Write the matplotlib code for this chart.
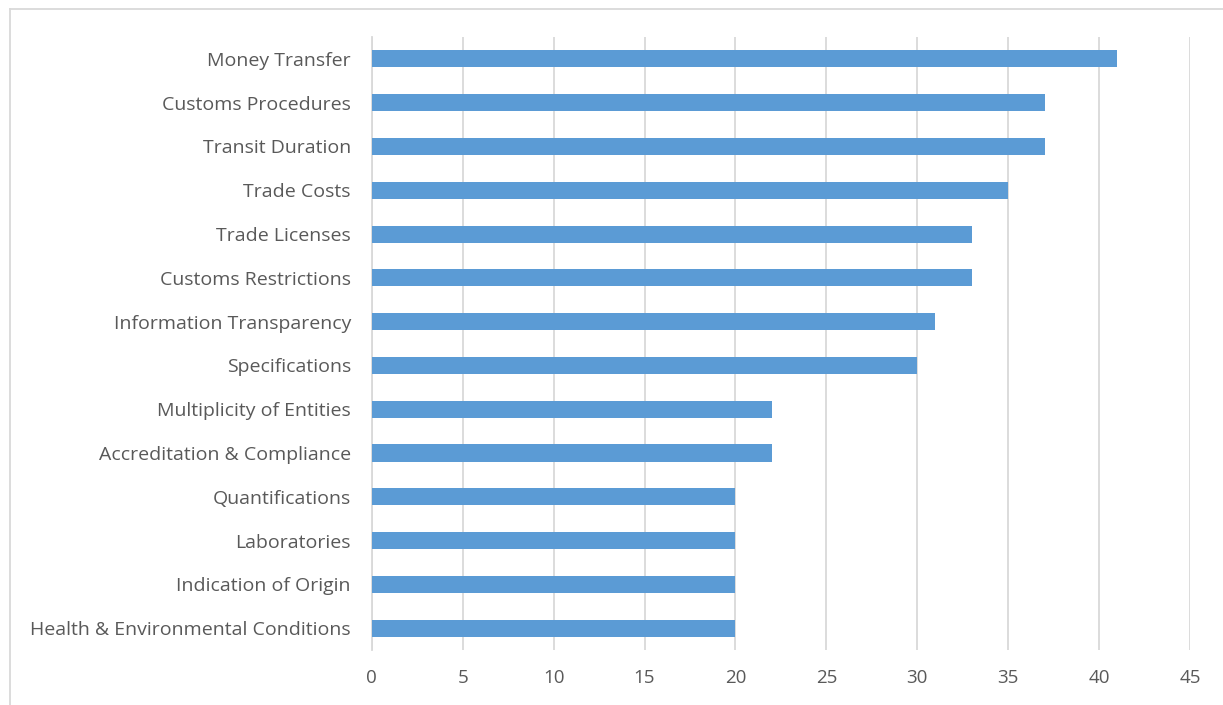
import matplotlib.pyplot as plt
from matplotlib.lines import Line2D

# 項目と件数（上から順）
categories = [
    'Money Transfer',
    'Customs Procedures',
    'Transit Duration',
    'Trade Costs',
    'Trade Licenses',
    'Customs Restrictions',
    'Information Transparency',
    'Specifications',
    'Multiplicity of Entities',
    'Accreditation & Compliance',
    'Quantifications',
    'Laboratories',
    'Indication of Origin',
    'Health & Environmental Conditions',
]
counts = [41, 37, 37, 35, 33, 33, 31, 30, 22, 22, 20, 20, 20, 20]
x_ticks = list(range(0, 50, 5))

plt.rcParams['font.family'] = ['Open Sans', 'DejaVu Sans']

fig = plt.figure(figsize=(12.23, 7.05), dpi=100)
ax = fig.add_axes([0.304, 0.078, 0.669, 0.8695])

y = list(range(len(categories)))
ax.barh(y, counts, height=0.39, color='#5B9BD5', zorder=3)

ax.set_ylim(len(categories) - 0.5, -0.5)
ax.set_xlim(0, 45)
ax.set_xticks(x_ticks)
ax.set_yticks(y)
ax.set_yticklabels(categories)

ax.grid(axis='x', color='#D9D9D9', linewidth=1.3, zorder=0)
for s in ['top', 'right', 'bottom']:
    ax.spines[s].set_visible(False)
ax.spines['left'].set_color('#D9D9D9')
ax.spines['left'].set_linewidth(1.3)

ax.tick_params(axis='y', length=0, pad=15, labelsize=14, labelcolor='#595959')
ax.tick_params(axis='x', length=0, pad=14, labelsize=13.5, labelcolor='#595959')

# 枠線（左と上）
fig.add_artist(Line2D([10 / 1223, 10 / 1223], [0, 1 - 9 / 705],
                      color='#D9D9D9', linewidth=1.3, transform=fig.transFigure))
fig.add_artist(Line2D([10 / 1223, 1], [1 - 9 / 705, 1 - 9 / 705],
                      color='#D9D9D9', linewidth=1.3, transform=fig.transFigure))

fig.savefig('out.png', dpi=100)
